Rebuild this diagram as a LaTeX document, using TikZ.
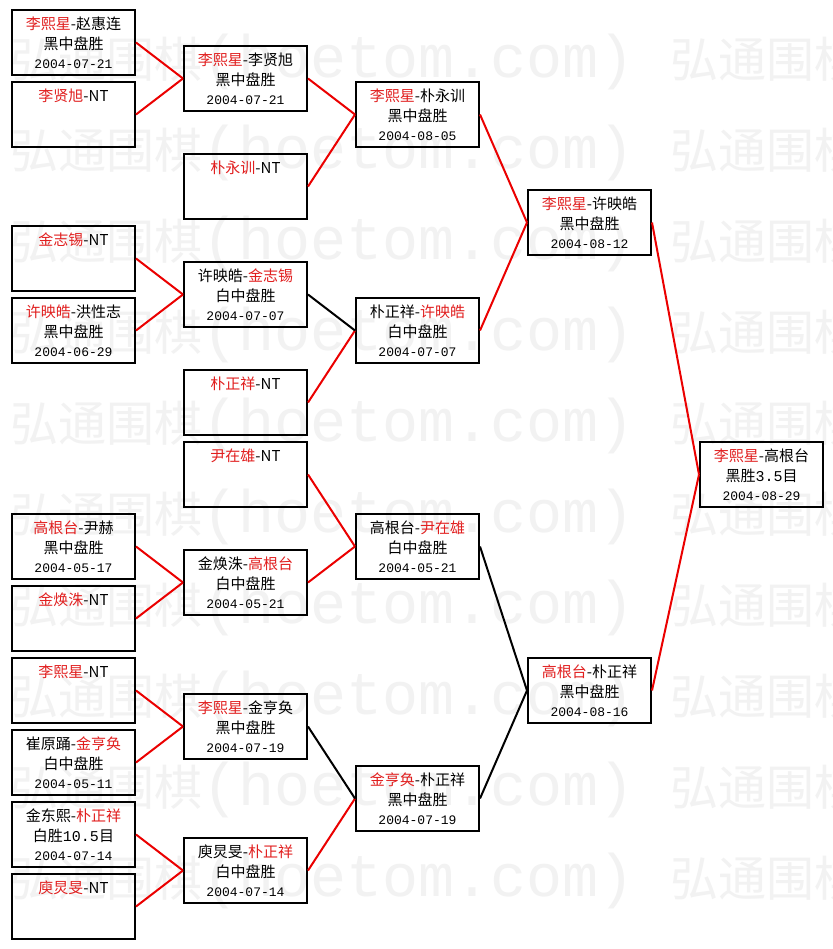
\documentclass[tikz,border=0pt]{standalone}
\usepackage{fontspec}
\usepackage{xcolor}
\usepackage{tikz}
\usetikzlibrary{positioning}
\newfontfamily\cjk{Noto Sans CJK SC}
\newfontfamily\dig{Liberation Mono}
\definecolor{winred}{RGB}{225,30,30}
\definecolor{wmgray}{RGB}{242,242,242}
\newcommand{\redname}[1]{\textcolor{winred}{#1}}
\newcommand{\gamedate}[1]{{\dig\fontsize{13pt}{19.5pt}\selectfont #1}}
\newcommand{\wmrow}{{\cjk\fontsize{48pt}{50pt}\selectfont 弘通围棋}{\dig\fontsize{60pt}{60pt}\selectfont (hoetom.com)}}

\begin{document}
\begin{tikzpicture}[x=1pt,y=-1pt,
 match/.style={draw,line width=2pt,minimum width=123pt,minimum height=65pt,inner sep=0pt},
 score/.style={anchor=north,yshift=-8pt,align=center,inner sep=0pt,font=\cjk\fontsize{15pt}{19.5pt}\selectfont},
 wmtext/.style={anchor=west,inner sep=0pt,text=wmgray},
 won/.style={line width=2pt,red!92!black},
 lost/.style={line width=2pt,black}]
 \useasboundingbox (0,0) rectangle (832,949);
 \fill[white] (0,0) rectangle (832,949);
 % watermark
 \begin{scope}
 \clip (0,0) rectangle (832,949);
 \foreach \wy in {62,153,...,881}{
  \node[wmtext] (wl\wy) at (10,\wy) {\wmrow};
  \node[wmtext] (wr\wy) at (670,\wy) {\wmrow};
 }
 \end{scope}
 % first round
 \node[match,label={[score]north:{\redname{李熙星}-赵惠连\\黑中盘胜\\\gamedate{2004-07-21}}}] (r1a) at (73.5,42.5) {};
 \node[match,label={[score]north:{\redname{李贤旭}-NT}}] (r1b) at (73.5,114.5) {};
 \node[match,label={[score]north:{\redname{金志锡}-NT}}] (r1c) at (73.5,258.5) {};
 \node[match,label={[score]north:{\redname{许映皓}-洪性志\\黑中盘胜\\\gamedate{2004-06-29}}}] (r1d) at (73.5,330.5) {};
 \node[match,label={[score]north:{\redname{高根台}-尹赫\\黑中盘胜\\\gamedate{2004-05-17}}}] (r1e) at (73.5,546.5) {};
 \node[match,label={[score]north:{\redname{金焕洙}-NT}}] (r1f) at (73.5,618.5) {};
 \node[match,label={[score]north:{\redname{李熙星}-NT}}] (r1g) at (73.5,690.5) {};
 \node[match,label={[score]north:{崔原踊-\redname{金亨奂}\\白中盘胜\\\gamedate{2004-05-11}}}] (r1h) at (73.5,762.5) {};
 \node[match,label={[score]north:{金东熙-\redname{朴正祥}\\白胜{\dig 10.5}目\\\gamedate{2004-07-14}}}] (r1i) at (73.5,834.5) {};
 \node[match,label={[score]north:{\redname{庾炅旻}-NT}}] (r1j) at (73.5,906.5) {};
 % second round
 \node[match,label={[score]north:{\redname{李熙星}-李贤旭\\黑中盘胜\\\gamedate{2004-07-21}}}] (r2a) at (245.5,78.5) {};
 \node[match,label={[score]north:{\redname{朴永训}-NT}}] (r2b) at (245.5,186.5) {};
 \node[match,label={[score]north:{许映皓-\redname{金志锡}\\白中盘胜\\\gamedate{2004-07-07}}}] (r2c) at (245.5,294.5) {};
 \node[match,label={[score]north:{\redname{朴正祥}-NT}}] (r2d) at (245.5,402.5) {};
 \node[match,label={[score]north:{\redname{尹在雄}-NT}}] (r2e) at (245.5,474.5) {};
 \node[match,label={[score]north:{金焕洙-\redname{高根台}\\白中盘胜\\\gamedate{2004-05-21}}}] (r2f) at (245.5,582.5) {};
 \node[match,label={[score]north:{\redname{李熙星}-金亨奂\\黑中盘胜\\\gamedate{2004-07-19}}}] (r2g) at (245.5,726.5) {};
 \node[match,label={[score]north:{庾炅旻-\redname{朴正祥}\\白中盘胜\\\gamedate{2004-07-14}}}] (r2h) at (245.5,870.5) {};
 % third round
 \node[match,label={[score]north:{\redname{李熙星}-朴永训\\黑中盘胜\\\gamedate{2004-08-05}}}] (r3a) at (417.5,114.5) {};
 \node[match,label={[score]north:{朴正祥-\redname{许映皓}\\白中盘胜\\\gamedate{2004-07-07}}}] (r3b) at (417.5,330.5) {};
 \node[match,label={[score]north:{高根台-\redname{尹在雄}\\白中盘胜\\\gamedate{2004-05-21}}}] (r3c) at (417.5,546.5) {};
 \node[match,label={[score]north:{\redname{金亨奂}-朴正祥\\黑中盘胜\\\gamedate{2004-07-19}}}] (r3d) at (417.5,798.5) {};
 % semi finals and final
 \node[match,label={[score]north:{\redname{李熙星}-许映皓\\黑中盘胜\\\gamedate{2004-08-12}}}] (r4a) at (589.5,222.5) {};
 \node[match,label={[score]north:{\redname{高根台}-朴正祥\\黑中盘胜\\\gamedate{2004-08-16}}}] (r4b) at (589.5,690.5) {};
 \node[match,label={[score]north:{\redname{李熙星}-高根台\\黑胜{\dig 3.5}目\\\gamedate{2004-08-29}}}] (final) at (761.5,474.5) {};
 % connectors
 \foreach \from/\to in {r1a/r2a,r1b/r2a,r1c/r2c,r1d/r2c,r1e/r2f,r1f/r2f,r1g/r2g,r1h/r2g,r1i/r2h,r1j/r2h,
   r2a/r3a,r2b/r3a,r2d/r3b,r2e/r3c,r2f/r3c,r2h/r3d,r3a/r4a,r3b/r4a,r4a/final,r4b/final}
  \draw[won] (\from.east) -- (\to.west);
 \foreach \from/\to in {r2c/r3b,r2g/r3d,r3c/r4b,r3d/r4b}
  \draw[lost] (\from.east) -- (\to.west);
\end{tikzpicture}
\end{document}
